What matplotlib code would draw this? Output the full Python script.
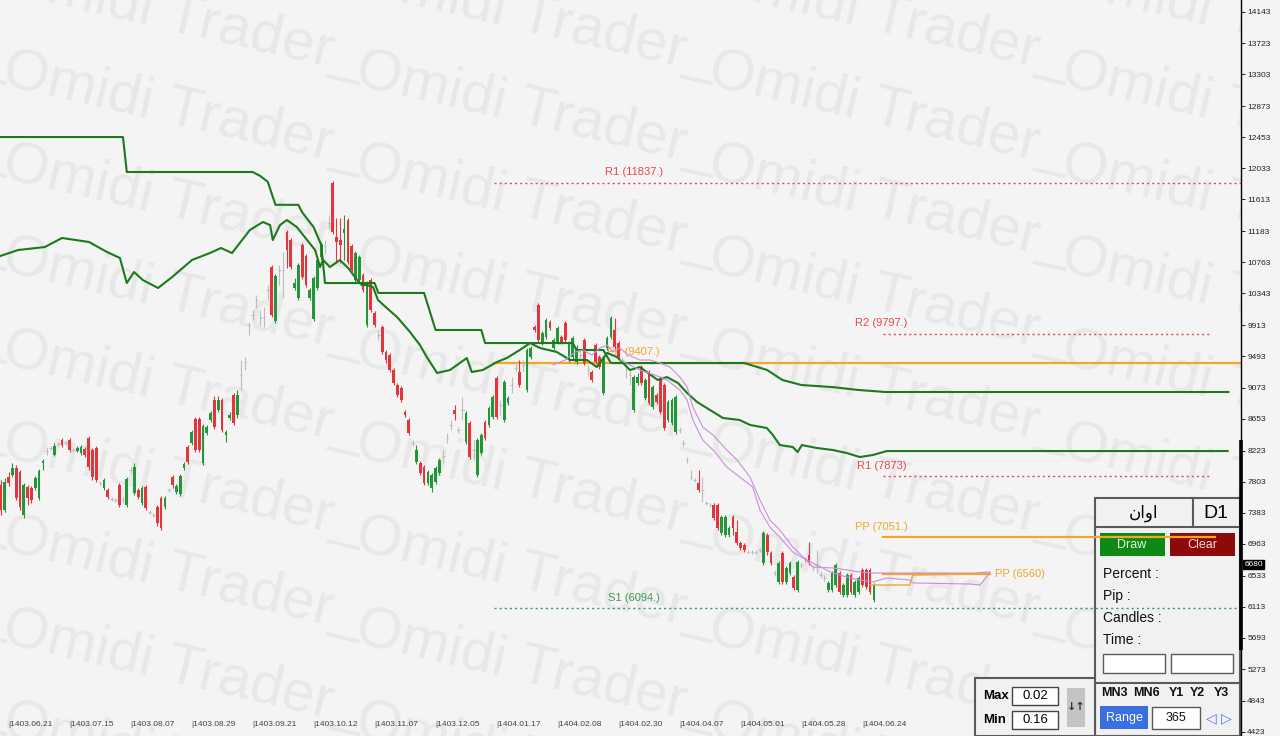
import matplotlib
matplotlib.use("Agg")
import matplotlib.pyplot as plt
from matplotlib.patches import Rectangle
from matplotlib.transforms import blended_transform_factory
import numpy as np

plt.rcParams['font.family'] = ['Liberation Sans', 'DejaVu Sans']

# daily candles, oldest first
opens = [7757, 7420, 7865, 7892, 7987, 7933, 7352, 7730, 7717, 7717,
         7582, 8054, 8216, 8257, 8162, 8311, 8365, 8324, 8365, 8230,
         8216, 8189, 8243, 8392, 8230, 8257, 7784, 7717, 7690, 7568,
         7555, 7757, 7555, 7487, 7960, 7649, 7690, 7514, 7730, 7393,
         7352, 7460, 7582, 7460, 7690, 7865, 7663, 7636, 7987, 8270,
         8324, 8648, 8648, 8054, 8459, 8635, 8905, 8770, 8905, 8432,
         8662, 8972, 8702, 9242, 9418, 9917, 10052, 10255, 10012, 10025,
         10390, 10700, 9971, 10660, 10660, 11173, 11065, 10417, 10282, 10997,
         10849, 10282, 9998, 10417, 10835, 10980, 11300, 11834, 11105, 11065,
         11159, 11335, 10984, 10525, 10525, 10592, 9917, 10525, 10079, 9782,
         9890, 9553, 9512, 9310, 9107, 9067, 8743, 8635, 8324, 8068,
         8054, 8000, 7784, 7717, 7798, 7919, 8149, 8392, 8568, 8770,
         8500, 8770, 8338, 8594, 8230, 7892, 8189, 8608, 8568, 8675,
         9202, 8837, 8635, 8864, 9107, 9337, 9283, 9377, 9040, 9485,
         9890, 10187, 9674, 9755, 9958, 9607, 9688, 9755, 9944, 9445,
         9485, 9418, 9512, 9715, 9310, 9283, 9647, 9485, 8999, 9607,
         9755, 9850, 9674, 9445, 9310, 9242, 8770, 9134, 9350, 8932,
         9283, 8810, 8972, 9202, 9107, 8635, 8594, 8473, 8500, 8324,
         8095, 7865, 7825, 7784, 7690, 7514, 7487, 7487, 7487, 7109,
         7082, 7082, 7325, 7123, 6974, 6947, 6853, 6853, 6853, 6880,
         6704, 7082, 6839, 6569, 6448, 6839, 6448, 6569, 6515, 6340,
         6677, 6745, 6812, 6637, 6677, 6542, 6502, 6340, 6340, 6407,
         6569, 6272, 6272, 6542, 6272, 6313, 6610, 6610, 6610, 6205]
closes = [7420, 7798, 7784, 7987, 7582, 7460, 7757, 7582, 7555, 7852,
          7946, 8081, 8216, 8257, 8284, 8311, 8297, 8324, 8230, 8230,
          8257, 8270, 8162, 8000, 7865, 7825, 7784, 7825, 7595, 7568,
          7555, 7487, 7555, 7838, 7960, 8000, 7595, 7717, 7447, 7393,
          7352, 7244, 7177, 7582, 7690, 7757, 7744, 7879, 8041, 8068,
          8473, 8230, 8230, 8554, 8540, 8730, 8540, 8905, 8500, 8473,
          8702, 8594, 8972, 9242, 9418, 9917, 10052, 10255, 10012, 10025,
          10390, 10052, 10579, 10660, 10660, 10930, 10700, 10484, 10727, 10565,
          10457, 10390, 10552, 10795, 11011, 10980, 11300, 11173, 11038, 10997,
          11213, 10768, 10660, 10889, 10835, 10390, 10484, 10120, 9917, 9782,
          9553, 9445, 9310, 9134, 8972, 8905, 8702, 8459, 8324, 8230,
          7919, 7784, 7933, 7892, 7987, 8095, 8149, 8392, 8568, 8716,
          8500, 8770, 8730, 8135, 8230, 8365, 8432, 8392, 8797, 8945,
          8675, 8837, 9148, 8932, 9107, 9337, 9107, 9377, 9580, 9607,
          9850, 9715, 9809, 9985, 9877, 9715, 9877, 9688, 9715, 9674,
          9742, 9607, 9512, 9404, 9310, 9175, 9418, 9350, 9472, 9742,
          10012, 9620, 9485, 9445, 9310, 9242, 9215, 9215, 9134, 9175,
          8864, 9080, 8878, 8743, 8527, 8878, 8905, 8945, 8500, 8324,
          8095, 7865, 7825, 7690, 7690, 7514, 7487, 7312, 7177, 7325,
          7325, 7177, 7177, 6974, 6907, 6880, 6853, 6853, 6853, 6880,
          7109, 6853, 6704, 6569, 6704, 6448, 6637, 6704, 6367, 6718,
          6677, 6745, 6704, 6637, 6677, 6542, 6502, 6435, 6569, 6677,
          6313, 6407, 6542, 6313, 6448, 6502, 6407, 6380, 6313, 6407]
highs = [7825, 7852, 7933, 8054, 8027, 7960, 7784, 7757, 7744, 7879,
         7973, 8108, 8270, 8284, 8324, 8338, 8392, 8351, 8392, 8257,
         8284, 8297, 8270, 8419, 8257, 8284, 7811, 7852, 7717, 7595,
         7582, 7784, 7595, 7865, 8000, 8054, 7717, 7744, 7757, 7420,
         7379, 7487, 7609, 7609, 7717, 7892, 7771, 7906, 8068, 8297,
         8500, 8675, 8675, 8581, 8568, 8756, 8959, 8959, 8932, 8500,
         8743, 8999, 9040, 9445, 9485, 9958, 10120, 10322, 10120, 10160,
         10457, 10727, 10606, 10727, 10903, 11200, 11092, 10552, 10754, 11024,
         10876, 10417, 10579, 10822, 11038, 11065, 11400, 11862, 11362, 11362,
         11402, 11362, 11011, 10916, 10862, 10619, 10511, 10552, 10106, 9850,
         9917, 9580, 9539, 9337, 9134, 9094, 8770, 8662, 8365, 8297,
         8081, 8027, 7960, 7919, 8014, 8122, 8230, 8459, 8635, 8837,
         8540, 8945, 8756, 8621, 8365, 8392, 8459, 8635, 8824, 8972,
         9229, 8905, 9175, 8959, 9215, 9404, 9445, 9445, 9607, 9634,
         9917, 10214, 9836, 10012, 9985, 9742, 9904, 9782, 9971, 9701,
         9769, 9647, 9580, 9742, 9377, 9310, 9674, 9512, 9499, 9769,
         10039, 10012, 9701, 9485, 9404, 9310, 9242, 9269, 9377, 9202,
         9310, 9107, 8999, 9229, 9134, 8905, 8932, 8972, 8540, 8365,
         8135, 7960, 7852, 7960, 7865, 7541, 7514, 7514, 7514, 7352,
         7352, 7204, 7352, 7285, 7001, 6974, 6880, 6880, 6880, 6907,
         7136, 7109, 6866, 6610, 6731, 6866, 6664, 6731, 6542, 6745,
         6718, 6785, 6988, 6677, 6880, 6583, 6542, 6461, 6596, 6704,
         6596, 6435, 6569, 6569, 6475, 6529, 6637, 6637, 6637, 6435]
lows = [7352, 7393, 7744, 7865, 7555, 7420, 7312, 7487, 7514, 7690,
        7555, 7960, 8162, 8230, 8149, 8284, 8270, 8297, 8203, 8203,
        8203, 8162, 8135, 7960, 7825, 7798, 7757, 7690, 7568, 7541,
        7528, 7460, 7514, 7460, 7919, 7622, 7568, 7487, 7420, 7366,
        7325, 7204, 7150, 7433, 7663, 7717, 7636, 7609, 7960, 8041,
        8297, 8203, 8203, 8027, 8432, 8608, 8513, 8743, 8473, 8338,
        8635, 8568, 8662, 9040, 9310, 9782, 9985, 10147, 9904, 9890,
        10255, 10025, 9944, 10457, 10282, 10687, 10673, 10390, 10255, 10538,
        10430, 10255, 9971, 10390, 10808, 10876, 11200, 11146, 10754, 10754,
        10795, 10741, 10633, 10498, 10498, 10363, 9890, 10093, 9890, 9715,
        9526, 9404, 9283, 9107, 8945, 8878, 8675, 8432, 8284, 8041,
        7892, 7757, 7757, 7663, 7771, 7892, 8054, 8324, 8500, 8635,
        8459, 8635, 8311, 8108, 8095, 7865, 8162, 8365, 8540, 8648,
        8648, 8702, 8608, 8837, 8999, 9283, 9080, 9283, 9013, 9458,
        9823, 9688, 9647, 9728, 9850, 9580, 9661, 9661, 9688, 9418,
        9458, 9391, 9445, 9377, 9242, 9148, 9391, 9323, 8972, 9580,
        9728, 9593, 9458, 9404, 9202, 9107, 8743, 9107, 9107, 8905,
        8837, 8783, 8851, 8716, 8500, 8608, 8568, 8446, 8459, 8284,
        8054, 7825, 7798, 7663, 7528, 7487, 7460, 7285, 7150, 7082,
        7055, 7055, 7082, 6947, 6880, 6853, 6826, 6826, 6826, 6853,
        6677, 6812, 6677, 6529, 6421, 6421, 6421, 6542, 6340, 6313,
        6637, 6704, 6677, 6596, 6569, 6502, 6461, 6313, 6313, 6380,
        6286, 6245, 6245, 6286, 6245, 6286, 6380, 6353, 6286, 6178]

date_labels = ['1403.06.21', '1403.07.15', '1403.08.07', '1403.08.29', '1403.09.21',
               '1403.10.12', '1403.11.07', '1403.12.05', '1404.01.17', '1404.02.08',
               '1404.02.30', '1404.04.07', '1404.05.01', '1404.05.28', '1404.06.24']
price_ticks = [14143, 13723, 13303, 12873, 12453, 12033, 11613, 11183, 10763, 10343,
               9913, 9493, 9073, 8653, 8223, 7803, 7383, 6963, 6533, 6113,
               5693, 5273, 4843, 4423]
last_price = 6680

# indicator lines, as (candle index, price)
slow_idx = [-1, 32, 33, 66, 68, 70, 72, 78, 79, 82, 84, 85, 98, 99, 111, 114, 126, 127,
            139, 150, 151, 158, 160, 195, 201, 205, 210, 218, 225, 232, 322]
slow_val = [12455, 12455, 11983, 11983, 11930, 11850, 11540, 11540, 11440, 11240, 11000,
            10484, 10484, 10350, 10350, 9850, 9850, 9674, 9674, 9674, 9580, 9580, 9404,
            9404, 9310, 9175, 9107, 9080, 9040, 9013, 9013]
fast_idx = [-1, 4.5, 11.5, 16, 23.1, 27.8, 31.2, 33, 34.9, 37.2, 41.2, 44.9, 50.1, 54.8,
            57.7, 60.6, 65.3, 68.7, 70.6, 71.3, 73.2, 75, 77.6, 80.3, 82.4, 83.7, 84.5,
            86.3, 88.9, 90.8, 91.5, 93.4, 94.7, 96, 97.6, 98.9, 101.2, 103.9, 107.3, 109.9,
            111.7, 114.4, 117.8, 122.2, 123.5, 126.4, 130.1, 132.7, 136.1, 138.8, 141.4,
            145.8, 149.3, 153.7, 156.3, 159, 161.6, 165, 167.6, 169.4, 172.3, 174.7, 177.6,
            180, 182.6, 186, 189.4, 193.8, 196.5, 200.9, 202.5, 204.3, 207.7, 209, 210.1,
            214, 218.2, 221.9, 225.3, 228.7, 232.4, 321.8]
fast_val = [10835, 10930, 10970, 11092, 11038, 10903, 10822, 10484, 10633, 10525, 10417,
            10565, 10795, 10889, 10957, 10889, 11200, 11308, 11267, 11065, 11267, 11335,
            11240, 11065, 10930, 10700, 10795, 10700, 10795, 10700, 10660, 10525, 10457,
            10457, 10430, 10255, 10147, 10025, 9823, 9647, 9485, 9270, 9310, 9472, 9283,
            9310, 9418, 9472, 9580, 9674, 9607, 9553, 9445, 9445, 9350, 9540, 9485, 9310,
            9350, 9283, 9175, 9215, 9134, 9000, 8878, 8770, 8662, 8635, 8568, 8527, 8432,
            8297, 8270, 8203, 8297, 8257, 8230, 8189, 8135, 8162, 8216, 8216]
band_hi_idx = [144.8, 148, 150.6, 152.7, 155, 157.1, 159, 160.5, 162.4, 164.5, 167.6, 170.2,
               172.9, 175.5, 178.1, 180, 181.5, 184.1, 186.8, 190.4, 193.1, 196.5, 199.1,
               201.7, 204.3, 207.7, 210.4, 213, 218.2, 221.9, 225.3, 228.7, 232.4, 255.5, 259.4]
band_hi_val = [9377, 9445, 9553, 9580, 9512, 9607, 9647, 9553, 9607, 9512, 9445, 9445,
               9404, 9350, 9215, 9080, 8810, 8540, 8432, 8230, 8095, 7865, 7555,
               7285, 7150, 6921, 6786, 6650, 6637, 6610, 6583, 6569, 6569, 6569, 6583]
band_lo_idx = [162.4, 167.6, 171.5, 174.7, 178.1, 180, 181.5, 184.1, 186.8, 190.4, 193.8,
               197.2, 199.1, 201.7, 204.3, 207.7, 210.4, 214, 218.2, 221.9, 225.3, 228.7,
               232.4, 238.4, 239.2, 254.2, 256.8, 259.4]
band_lo_val = [9445, 9310, 9242, 9175, 9040, 8905, 8635, 8365, 8230, 8000, 7865,
               7730, 7420, 7190, 7055, 6853, 6772, 6677, 6569, 6515, 6475, 6448,
               6502, 6475, 6435, 6421, 6407, 6569]
proj_idx = [228, 238.4, 239.2, 259.4]
proj_val = [6407, 6407, 6542, 6560]

# pivot levels: name, price, first / last candle index, label anchor
lv_names = ['R1 (11837.)', 'PP (9407.)', 'S1 (6094.)', 'R2 (9797.)', 'R1 (7873)', 'PP (7051.)', 'PP (6560)']
lv_values = [11837, 9407, 6094, 9797, 7873, 7051, 6560]
lv_start = [129.3, 129.3, 129.3, 231.3, 231.3, 231.3, 231.3]
lv_end = [325.3, 325.3, 325.3, 317.1, 317.1, 318.4, 259.4]
lv_label_x = [166, 166, 166, 231, 231, 231, 260.5]

BG = '#f4f4f4'
GREEN = '#24963a'
RED = '#e3353c'
DOJI = '#bdbdbd'
LINE_GREEN = '#1b7a1b'
PURPLE = '#c98fd9'
ORANGE = '#f2a72a'
LV_RED = '#e8484a'
LV_GREEN = '#3f9a52'

fig = plt.figure(figsize=(12.8, 7.36), dpi=100, facecolor=BG)
pw = 1241 / 1280

# background layer: watermark and the tool panels (pixel coordinates)
bgax = fig.add_axes([0, 0, pw, 1], zorder=1)
bgax.set_xlim(0, 1241)
bgax.set_ylim(736, 0)
bgax.axis('off')
for r in range(-1, 9):
    for k in range(-1, 5):
        bgax.text(4 + 353 * k, 70 + 93 * r, 'Omidi Trader_', fontsize=42, color='#e8e8e8',
                  rotation=-13, rotation_mode='anchor', ha='left', va='center', clip_on=True)

# main panel
edge = '#5a5a5a'
bgax.add_patch(Rectangle((1095, 498), 145, 238, facecolor='#f1f1f1', edgecolor=edge, lw=1.5, zorder=5))
bgax.plot([1095, 1240], [527, 527], color=edge, lw=1.5, zorder=6)
bgax.plot([1193, 1193], [498, 527], color=edge, lw=1.5, zorder=6)
bgax.plot([1095, 1240], [683, 683], color=edge, lw=1.5, zorder=6)
bgax.text(1144, 513, 'اوان'[::-1], fontsize=12, ha='center', va='center', zorder=7,
          family=['DejaVu Sans'])
bgax.text(1216, 513, 'D1', fontsize=14, ha='center', va='center', zorder=7)
bgax.add_patch(Rectangle((1100, 533), 65, 23, facecolor='#0e8a14', edgecolor='none', zorder=6))
bgax.text(1132, 545, 'Draw', fontsize=9, color='#e6f5e6', ha='center', va='center', zorder=7)
bgax.add_patch(Rectangle((1170, 533), 65, 23, facecolor='#8e0a0a', edgecolor='none', zorder=6))
bgax.text(1202, 545, 'Clear', fontsize=9, color='#f5d5d5', ha='center', va='center', zorder=7)
for lab, yy in zip(['Percent :', 'Pip :', 'Candles :', 'Time :'], [574, 596, 618, 640]):
    bgax.text(1103, yy, lab, fontsize=10, color='#111111', ha='left', va='center', zorder=7)
for bx in [1103, 1171]:
    bgax.add_patch(Rectangle((bx, 654), 62, 19, facecolor='white', edgecolor=edge, lw=1, zorder=6))
for lab, xx in zip(['MN3', 'MN6', 'Y1', 'Y2', 'Y3'], [1114, 1146, 1176, 1197, 1221]):
    bgax.text(xx, 693, lab, fontsize=9, fontweight='bold', color='#111111', ha='center', va='center', zorder=7)
bgax.add_patch(Rectangle((1100, 706), 48, 23, facecolor='#3a6fe0', edgecolor='none', zorder=6))
bgax.text(1124, 718, 'Range', fontsize=9, color='white', ha='center', va='center', zorder=7)
bgax.add_patch(Rectangle((1152, 707), 48, 22, facecolor='white', edgecolor=edge, lw=1, zorder=6))
bgax.text(1176, 718, '365', fontsize=9, color='#111111', ha='center', va='center', zorder=7)
bgax.text(1219, 718, '◁ ▷', fontsize=10, color='#5a78e0', ha='center', va='center', zorder=7,
          family=['DejaVu Sans'])

# max / min box
bgax.add_patch(Rectangle((975, 678), 120, 58, facecolor='#f1f1f1', edgecolor=edge, lw=1.5, zorder=5))
bgax.text(983, 696, 'Max', fontsize=9.5, fontweight='bold', ha='left', va='center', zorder=7)
bgax.text(983, 720, 'Min', fontsize=9.5, fontweight='bold', ha='left', va='center', zorder=7)
for yy, val in zip([687, 711], ['0.02', '0.16']):
    bgax.add_patch(Rectangle((1012, yy), 46, 18, facecolor='white', edgecolor='#444444', lw=1, zorder=6))
    bgax.text(1035, yy + 9, val, fontsize=9.5, ha='center', va='center', zorder=7)
bgax.add_patch(Rectangle((1067, 688), 18, 39, facecolor='#c4c4c4', edgecolor='none', zorder=6))
bgax.text(1076, 707, '↓↑', fontsize=8, fontweight='bold', color='#333333', ha='center', va='center',
          zorder=7, family=['DejaVu Sans'])

# price chart
ax = fig.add_axes([0, 0, pw, 1], zorder=2)
ax.patch.set_alpha(0)
ax.set_xlim(-0.26, 325.3)
ax.set_ylim(4369, 14305)

o = np.array(opens)
c = np.array(closes)
h = np.array(highs)
lo = np.array(lows)
x = np.arange(len(o))
up = c > o
dn = c < o
fl = c == o
ax.vlines(x[fl], lo[fl], h[fl], color=DOJI, lw=0.8, zorder=3)
ax.hlines(o[fl], x[fl] - 0.35, x[fl] + 0.35, color=DOJI, lw=0.8, zorder=3)
ax.vlines(x[up], lo[up], h[up], color=GREEN, lw=0.8, zorder=3)
ax.bar(x[up], (c - o)[up], bottom=o[up], width=0.72, color=GREEN, lw=0, zorder=3)
ax.vlines(x[dn], lo[dn], h[dn], color=RED, lw=0.8, zorder=3)
ax.bar(x[dn], (o - c)[dn], bottom=c[dn], width=0.72, color=RED, lw=0, zorder=3)

ax.plot(slow_idx, slow_val, color=LINE_GREEN, lw=1.5, zorder=4)
ax.plot(fast_idx, fast_val, color=LINE_GREEN, lw=1.5, zorder=4)
ax.plot(band_hi_idx, band_hi_val, color=PURPLE, lw=0.8, zorder=4)
ax.plot(band_lo_idx, band_lo_val, color=PURPLE, lw=0.8, zorder=4)
ax.plot(proj_idx, proj_val, color=ORANGE, lw=1.0, zorder=4)

for name, val, x0, x1, lx in zip(lv_names, lv_values, lv_start, lv_end, lv_label_x):
    if name.startswith('R'):
        col, ls, lw = LV_RED, (0, (1.5, 2.2)), 1.0
    elif name.startswith('S'):
        col, ls, lw = LV_GREEN, (0, (1.5, 2.2)), 1.0
    else:
        col, ls, lw = ORANGE, '-', 1.6
    ax.plot([x0, x1], [val, val], color=col, ls=ls, lw=lw, zorder=2.5)
    if name == 'PP (6560)':
        ax.annotate(name, (lx, val), xytext=(1, 0), textcoords='offset points',
                    ha='left', va='center', fontsize=8, color=col, zorder=2)
    else:
        ax.annotate(name, (lx, val), xytext=(0, 4), textcoords='offset points',
                    ha='center', va='bottom', fontsize=8, color=col, zorder=2)

# date labels every 16 candles
tr = blended_transform_factory(ax.transData, ax.transAxes)
for i, d in enumerate(date_labels):
    ax.text(2 + 16 * i, 0.015, '|' + d, transform=tr, fontsize=6, color='#444444',
            ha='left', va='center')

for s in ['top', 'left', 'bottom']:
    ax.spines[s].set_visible(False)
ax.spines['right'].set_color('black')
ax.spines['right'].set_linewidth(1.0)
ax.set_xticks([])
ax.yaxis.tick_right()
ax.set_yticks(price_ticks)
ax.set_yticklabels([str(t) for t in price_ticks])
ax.tick_params(axis='y', direction='out', length=3, width=0.7, labelsize=6, colors='#222222', pad=1.5)
ax.plot([325.3, 325.3], [8365, 5530], color='black', lw=2.6, solid_capstyle='butt', clip_on=False, zorder=6)
ax.annotate(str(last_price), (1, last_price), xycoords=('axes fraction', 'data'), xytext=(2.5, 0),
            textcoords='offset points', ha='left', va='center', fontsize=6, color='white',
            bbox=dict(boxstyle='square,pad=0.12', fc='black', ec='black'), annotation_clip=False, zorder=7)

fig.savefig('out.png', dpi=100, facecolor=BG)
